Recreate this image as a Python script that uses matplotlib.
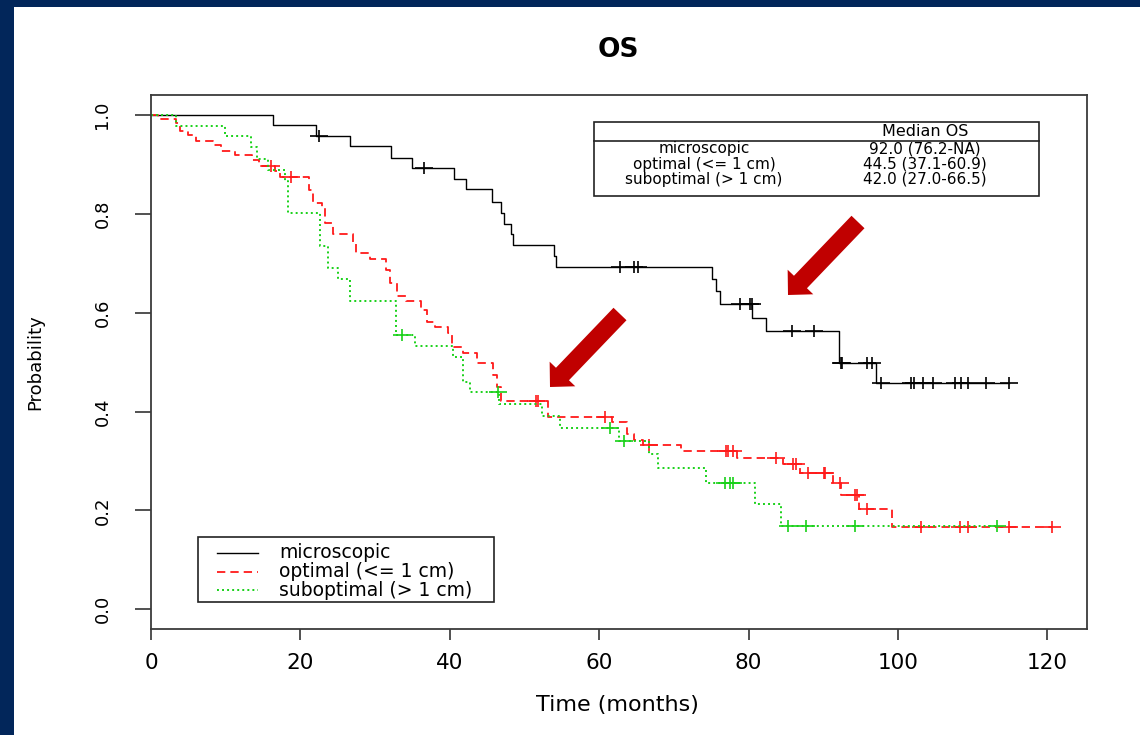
"""
OS 生存曲线（Kaplan-Meier）
按残留病灶分组：microscopic / optimal / suboptimal
"""
import numpy as np
import matplotlib
matplotlib.use("Agg")
import matplotlib.pyplot as plt
from matplotlib.lines import Line2D
from matplotlib.patches import Rectangle, FancyArrow

plt.rcParams["font.family"] = ["DejaVu Sans"]

# ═══════════════════════════════════════════════════════════
# 数据：各组生存曲线的跳跃时间 / 生存率 / 删失时间（月）
# ═══════════════════════════════════════════════════════════
mic_t = [0, 16.3, 22.1, 26.7, 32.1, 35.0, 40.6, 42.2, 45.7, 46.9, 47.2,
         48.2, 48.4, 54.0, 54.2, 75.1, 75.7, 76.2, 80.5, 82.3, 92.1, 97.0]
mic_s = [1.0, 0.980, 0.9575, 0.9367, 0.9136, 0.8934, 0.8705, 0.8497, 0.8246,
         0.8023, 0.7795, 0.7593, 0.737, 0.7148, 0.6919, 0.668, 0.644, 0.617,
         0.590, 0.563, 0.499, 0.457]
mic_cens = [22.5, 36.6, 62.8, 64.7, 65.2, 78.8, 80.2, 80.4, 85.8, 88.8, 92.4,
            92.5, 95.9, 96.5, 97.7, 101.7, 102.1, 103.3, 104.7, 107.6, 108.4,
            109.4, 111.8, 114.9]

opt_t = [0, 1.0, 3.3, 3.9, 4.9, 6.0, 8.3, 9.4, 11.3, 13.5, 14.4, 16.6, 17.3,
         21.1, 21.7, 22.9, 23.3, 24.3, 27.1, 27.5, 29.3, 31.5, 32.0, 32.9,
         34.2, 36.2, 36.9, 38.0, 39.8, 40.3, 41.8, 43.6, 45.8, 46.3, 46.8,
         53.2, 61.7, 63.7, 64.6, 65.8, 71.0, 78.4, 84.6, 86.9, 91.3, 92.4,
         94.8, 99.2]
opt_s = [1.0, 0.992, 0.983, 0.968, 0.9595, 0.947, 0.939, 0.927, 0.9185, 0.909,
         0.897, 0.886, 0.874, 0.848, 0.821, 0.811, 0.781, 0.759, 0.744, 0.720,
         0.708, 0.686, 0.660, 0.634, 0.624, 0.605, 0.582, 0.572, 0.558, 0.531,
         0.518, 0.498, 0.475, 0.45, 0.422, 0.390, 0.378, 0.355, 0.343, 0.332,
         0.321, 0.3065, 0.293, 0.275, 0.255, 0.231, 0.202, 0.167]
opt_cens = [16.0, 18.8, 51.5, 51.8, 60.8, 66.6, 77.0, 77.2, 77.9, 83.7, 86.0,
            86.3, 87.9, 90.1, 90.2, 92.2, 94.2, 94.5, 95.8, 103.1, 108.3,
            109.4, 114.8, 120.6]

sub_t = [0, 3.4, 9.9, 13.4, 14.2, 15.6, 17.9, 18.3, 22.6, 23.7, 25.1, 26.6,
         32.8, 35.3, 40.4, 41.8, 42.7, 46.6, 52.4, 54.7, 62.6, 66.6, 67.9,
         74.3, 80.9, 84.4]
sub_s = [1.0, 0.978, 0.9575, 0.935, 0.912, 0.889, 0.867, 0.801, 0.734, 0.690,
         0.668, 0.624, 0.555, 0.533, 0.511, 0.460, 0.440, 0.415, 0.391, 0.367,
         0.341, 0.314, 0.285, 0.256, 0.213, 0.1685]
sub_cens = [33.6, 46.5, 61.4, 63.3, 76.9, 77.5, 77.9, 85.3, 87.7, 94.2, 113.2]

group_names = ["microscopic", "optimal (<= 1 cm)", "suboptimal (> 1 cm)"]
median_os = ["92.0 (76.2-NA)", "44.5 (37.1-60.9)", "42.0 (27.0-66.5)"]

x_ticks = [0, 20, 40, 60, 80, 100, 120]
y_ticks = [0.0, 0.2, 0.4, 0.6, 0.8, 1.0]
y_ticklabels = ["0.0", "0.2", "0.4", "0.6", "0.8", "1.0"]

# 线型
RED = "#ff1a1a"
GREEN = "#19d119"
STYLES = [
    dict(color="black", lw=1.0, linestyle="-"),
    dict(color=RED, lw=1.3, linestyle=(0, (4.6, 2.8))),
    dict(color=GREEN, lw=1.4, linestyle=(0, (1.0, 1.6))),
]

W, H = 1140, 735


def fxy(x, y):
    """像素坐标 -> figure 坐标"""
    return x / W, 1 - y / H


def draw_km(ax, t, s, cens, style):
    """阶梯生存曲线 + 删失标记(+)"""
    t = np.asarray(t)
    s = np.asarray(s)
    end = max(cens)
    ax.step(np.r_[t, end], np.r_[s, s[-1]], where="post", **style)
    idx = np.searchsorted(t, cens, side="right") - 1
    ax.plot(cens, s[idx], ls="none", marker="|", ms=8.6, mew=1.2,
            color=style["color"])
    ax.plot(cens, s[idx], ls="none", marker="_", ms=13.5, mew=1.2,
            color=style["color"])


fig = plt.figure(figsize=(W / 100, H / 100), dpi=100)
fig.patch.set_facecolor("white")

# 深蓝色边条
fig.add_artist(Rectangle((0, 0), 14 / W, 1, transform=fig.transFigure,
                         color="#02265a", lw=0))
fig.add_artist(Rectangle((0, 1 - 7 / H), 1, 7 / H, transform=fig.transFigure,
                         color="#02265a", lw=0))

ax = fig.add_axes([151 / W, 1 - 629.3 / H, 935.7 / W, 534.3 / H])

draw_km(ax, mic_t, mic_s, mic_cens, STYLES[0])
draw_km(ax, opt_t, opt_s, opt_cens, STYLES[1])
draw_km(ax, sub_t, sub_s, sub_cens, STYLES[2])

ax.set_xlim(0, 125.26)
ax.set_ylim(-0.0405, 1.0405)
ax.set_xticks(x_ticks)
ax.set_xticklabels([str(v) for v in x_ticks], fontsize=15.5)
ax.set_yticks(y_ticks)
ax.set_yticklabels(y_ticklabels, fontsize=13, rotation=90, va="center")
ax.tick_params(axis="x", direction="out", length=8, width=1.1, pad=9,
               color="#222222")
ax.tick_params(axis="y", direction="out", length=11.5, width=1.1, pad=17,
               color="#222222")
for sp in ax.spines.values():
    sp.set_color("#3a3a3a")
    sp.set_linewidth(1.3)

ax.set_title("OS", fontsize=19, fontweight="bold", y=1.084, va="center",
             pad=0)
ax.set_xlabel("Time (months)", fontsize=16, va="center")
ax.xaxis.set_label_coords((617 - 151) / 935.7, (629.3 - 705) / 534.3)
ax.set_ylabel("Probability", fontsize=13, va="center")
ax.yaxis.set_label_coords((35 - 151) / 935.7, (629.3 - 362) / 534.3)

# 图例（左下）
x0, y0 = fxy(198.3, 601.7)
x1, y1 = fxy(494, 536.7)
fig.add_artist(Rectangle((x0, y0), x1 - x0, y1 - y0, fill=False,
                         ec="#222222", lw=1.2, transform=fig.transFigure))
for name, style, yy in zip(group_names, STYLES, [552.7, 571.7, 590.0]):
    (lx0, ly), (lx1, _) = fxy(216.7, yy), fxy(258.3, yy)
    fig.add_artist(Line2D([lx0, lx1], [ly, ly], transform=fig.transFigure,
                          **style))
    tx, ty = fxy(279.3, yy)
    fig.text(tx, ty, name, fontsize=13.5, ha="left", va="center")

# 中位 OS 表（右上）
x0, y0 = fxy(594, 196)
x1, y1 = fxy(1039, 121.7)
fig.add_artist(Rectangle((x0, y0), x1 - x0, y1 - y0, fill=False,
                         ec="#222222", lw=1.2, transform=fig.transFigure))
hx0, hy = fxy(594, 141)
hx1, _ = fxy(1039, 141)
fig.add_artist(Line2D([hx0, hx1], [hy, hy], transform=fig.transFigure,
                      color="#222222", lw=1.2))
tx, ty = fxy(925, 131)
fig.text(tx, ty, "Median OS", fontsize=11.5, ha="center", va="center")
for name, med, yy in zip(group_names, median_os, [148.5, 164.0, 179.5]):
    tx, ty = fxy(704, yy)
    fig.text(tx, ty, name, fontsize=11, ha="center", va="center")
    tx, ty = fxy(925, yy)
    fig.text(tx, ty, med, fontsize=11, ha="center", va="center")

# 红色箭头（英寸坐标，保持 45° 不变形）
for (tail_x, tail_y), (tip_x, tip_y) in [((620, 314), (550, 387)),
                                         ((858, 222), (788, 295))]:
    fig.add_artist(FancyArrow(tail_x / 100, (H - tail_y) / 100,
                              (tip_x - tail_x) / 100, (tail_y - tip_y) / 100,
                              width=0.18, head_width=0.355, head_length=0.18,
                              length_includes_head=True, color="#c00000",
                              lw=0, transform=fig.dpi_scale_trans))

fig.savefig("out.png", dpi=100)
plt.close(fig)
